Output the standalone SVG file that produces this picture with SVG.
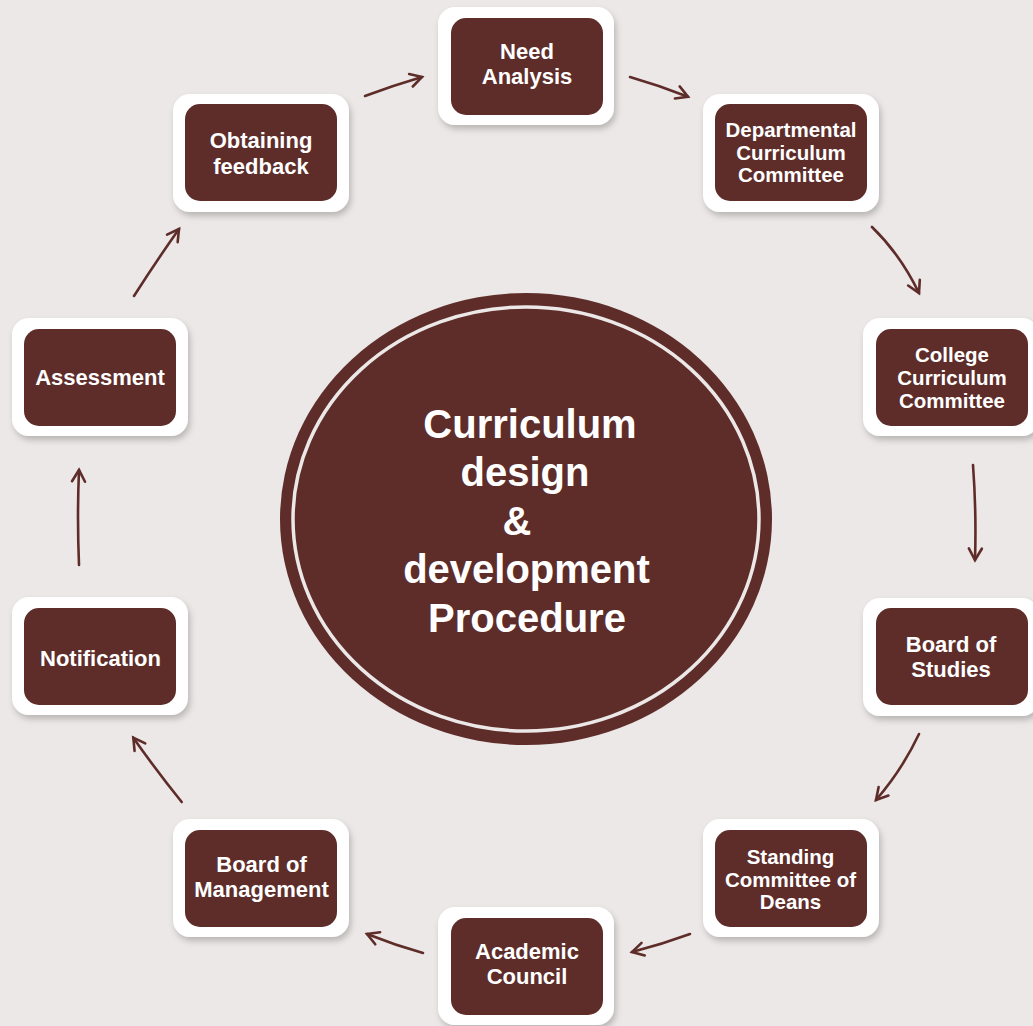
<svg xmlns="http://www.w3.org/2000/svg" width="1033" height="1026" viewBox="0 0 1033 1026">
<defs>
<filter id="sh" x="-20%" y="-20%" width="140%" height="150%">
<feDropShadow dx="2" dy="4" stdDeviation="3" flood-color="#000" flood-opacity="0.22"/>
</filter>
<marker id="ah" markerUnits="userSpaceOnUse" markerWidth="20" markerHeight="20" refX="15" refY="10" orient="auto" viewBox="0 0 20 20">
<path d="M3.5,3.5 L15,10 L3.5,16.5" fill="none" stroke="#5e2d2a" stroke-width="2.6" stroke-linecap="round" stroke-linejoin="miter"/>
</marker>
</defs>
<style>
.outer{fill:#ffffff;filter:url(#sh)}
.inner{fill:#5e2d2a}
.t{font-family:"Liberation Sans",Arial,Helvetica,sans-serif;font-weight:bold;fill:#ffffff;text-anchor:middle}
.s22{font-size:22px}
.s20{font-size:20.5px}
.big{font-size:40px}
.c{fill:none;stroke:#5e2d2a;stroke-width:2.6;stroke-linecap:round;marker-end:url(#ah)}
</style>
<rect width="1033" height="1026" fill="#ece8e7"/>

<g id="center">
<ellipse cx="526" cy="519" rx="246" ry="226" fill="#5e2d2a"/>
<ellipse cx="526" cy="519" rx="233" ry="212" fill="none" stroke="#ece8e7" stroke-width="3.5"/>
<text class="t big" x="530" y="437.5">Curriculum</text>
<text class="t big" x="525" y="486">design</text>
<text class="t big" x="517" y="534.5">&amp;</text>
<text class="t big" x="526.5" y="583">development</text>
<text class="t big" x="527" y="631.5">Procedure</text>
</g>

<g id="connectors">
<path class="c" d="M365,96 Q393,85.5 422,77"/>
<path class="c" d="M630,77 Q659.5,85.5 688,96.7"/>
<path class="c" d="M872,227 Q900,254 919,293"/>
<path class="c" d="M973,465 Q976.5,512 975,560"/>
<path class="c" d="M919,734 Q902,770 876,800"/>
<path class="c" d="M690,934 Q661.5,944.5 632,952"/>
<path class="c" d="M423,953 Q394.5,945 367,934"/>
<path class="c" d="M181.7,802 Q156.5,770.8 133.3,737.7"/>
<path class="c" d="M79,565 Q77,517 79,470"/>
<path class="c" d="M134,296 Q155.7,262 179,229"/>
</g>

<g id="need-analysis">
<rect class="outer" x="438" y="7" width="176" height="118" rx="17"/>
<rect class="inner" x="451" y="18" width="152" height="97" rx="15"/>
<text class="t s22" x="527" y="59.3">Need</text>
<text class="t s22" x="527" y="84">Analysis</text>
</g>

<g id="departmental-curriculum-committee">
<rect class="outer" x="703" y="94" width="176" height="118" rx="17"/>
<rect class="inner" x="715" y="104" width="152" height="97" rx="15"/>
<text class="t s20" x="791" y="137.3">Departmental</text>
<text class="t s20" x="791" y="160">Curriculum</text>
<text class="t s20" x="791" y="182.3">Committee</text>
</g>

<g id="college-curriculum-committee">
<rect class="outer" x="863" y="318" width="176" height="118" rx="17"/>
<rect class="inner" x="876" y="329" width="152" height="97" rx="15"/>
<text class="t s20" x="952" y="362.3">College</text>
<text class="t s20" x="952" y="385">Curriculum</text>
<text class="t s20" x="952" y="408.3">Committee</text>
</g>

<g id="board-of-studies">
<rect class="outer" x="863" y="598" width="176" height="118" rx="17"/>
<rect class="inner" x="876" y="608" width="152" height="97" rx="15"/>
<text class="t s22" x="951" y="651.7">Board of</text>
<text class="t s22" x="951" y="676.7">Studies</text>
</g>

<g id="standing-committee-of-deans">
<rect class="outer" x="703" y="819" width="176" height="118" rx="17"/>
<rect class="inner" x="715" y="830" width="152" height="97" rx="15"/>
<text class="t s20" x="790.5" y="864">Standing</text>
<text class="t s20" x="790.5" y="886.5">Committee of</text>
<text class="t s20" x="790.5" y="909">Deans</text>
</g>

<g id="academic-council">
<rect class="outer" x="438" y="907" width="176" height="118" rx="17"/>
<rect class="inner" x="451" y="918" width="152" height="97" rx="15"/>
<text class="t s22" x="527" y="958.5">Academic</text>
<text class="t s22" x="527" y="983.5">Council</text>
</g>

<g id="board-of-management">
<rect class="outer" x="173" y="819" width="176" height="118" rx="17"/>
<rect class="inner" x="185" y="830" width="152" height="97" rx="15"/>
<text class="t s22" x="261.5" y="872.3">Board of</text>
<text class="t s22" x="261.5" y="896.7">Management</text>
</g>

<g id="notification">
<rect class="outer" x="12" y="597" width="176" height="118" rx="17"/>
<rect class="inner" x="24" y="608" width="152" height="97" rx="15"/>
<text class="t s22" x="100.5" y="665.7">Notification</text>
</g>

<g id="assessment">
<rect class="outer" x="12" y="318" width="176" height="118" rx="17"/>
<rect class="inner" x="24" y="329" width="152" height="97" rx="15"/>
<text class="t s22" x="100" y="385">Assessment</text>
</g>

<g id="obtaining-feedback">
<rect class="outer" x="173" y="94" width="176" height="118" rx="17"/>
<rect class="inner" x="185" y="104" width="152" height="97" rx="15"/>
<text class="t s22" x="261" y="148.3">Obtaining</text>
<text class="t s22" x="261" y="173.5">feedback</text>
</g>
</svg>
